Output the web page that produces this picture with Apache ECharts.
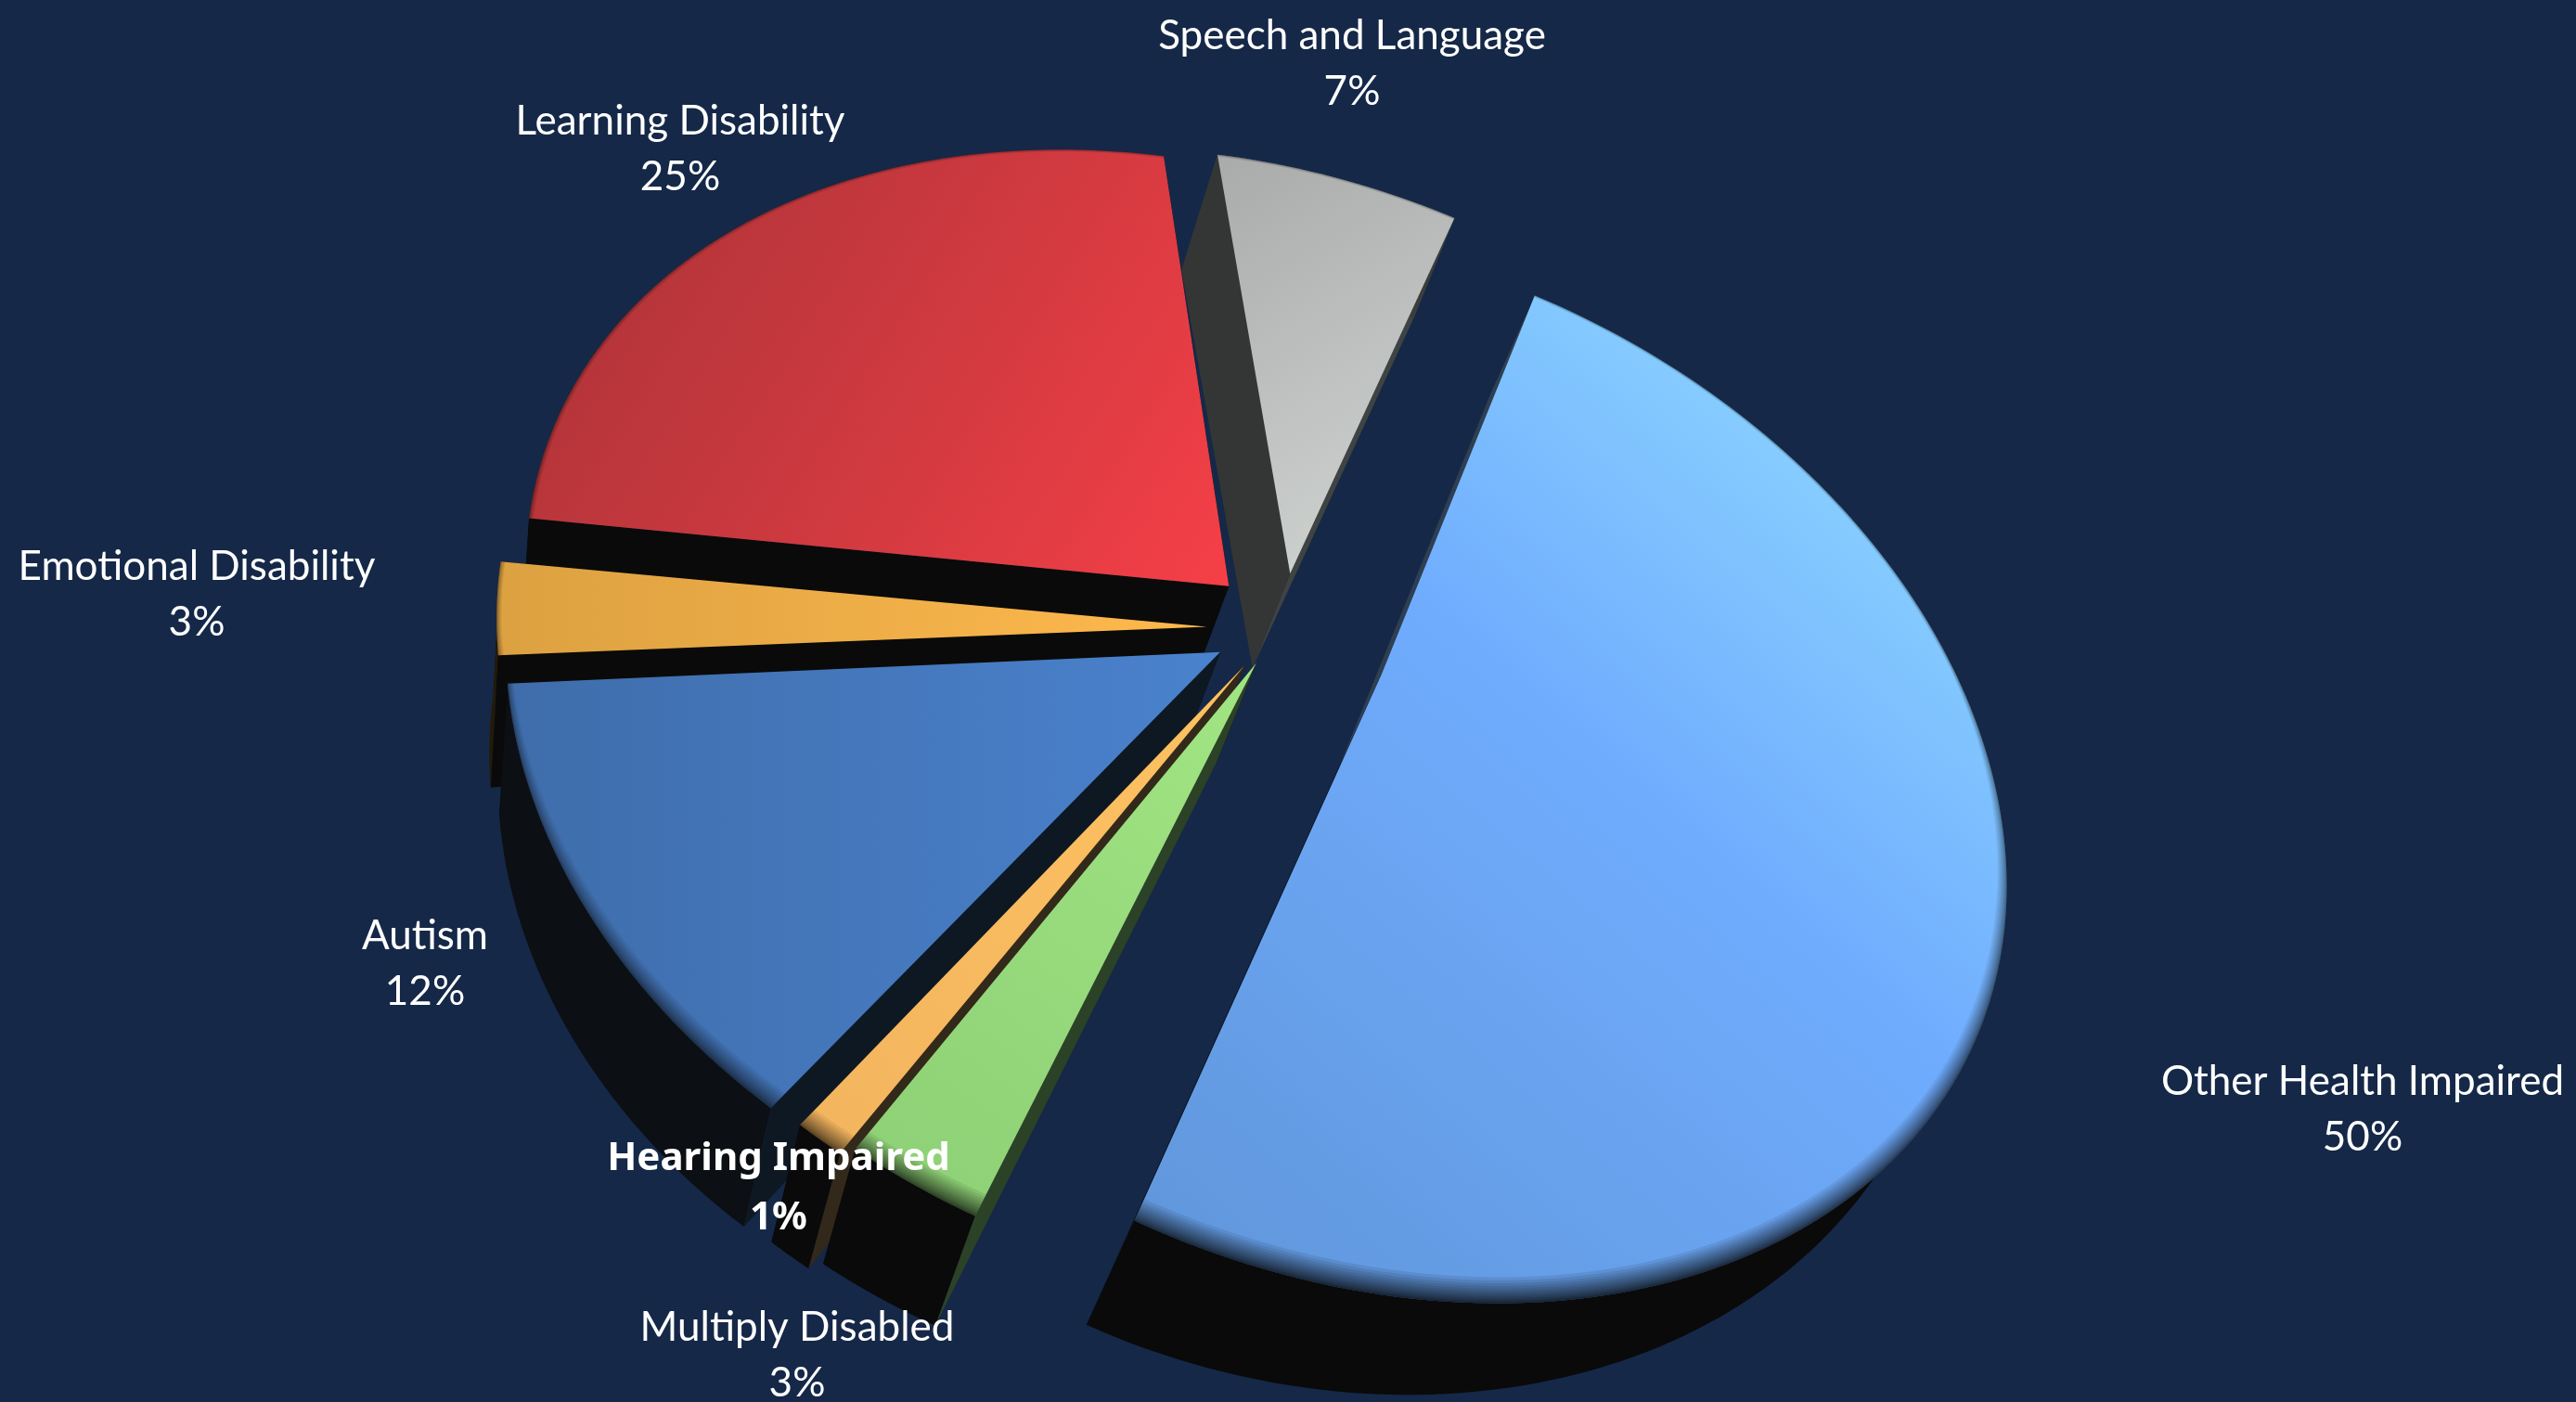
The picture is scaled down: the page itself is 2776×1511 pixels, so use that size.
<!DOCTYPE html>
<html><head><meta charset="utf-8">
<style>html,body{margin:0;height:100%;background:#152848}#chart{width:2776px;height:1511px}</style>
<script src="https://cdn.jsdelivr.net/npm/echarts@6/dist/echarts.min.js"></script></head>
<body><div id="chart"></div>
<script>
// Data, clockwise from the top of the largest slice
const categories = ['Other Health Impaired','Multiply Disabled','Hearing Impaired','Autism','Emotional Disability','Learning Disability','Speech and Language'];
const shares = [50.47, 2.63, 0.95, 11.66, 2.66, 24.51, 7.12];

// Scene: plane-to-screen homography of the tilted pie
const HOMOGRAPHY = {a:478.2,b:654.7,c:1355.0,d:-347.5,e:276.6,f:670.6,g:0.1895,h:-0.0068};
// Explosion offset of each slice within the pie plane
const explodeX = [0.001,-0.077,-0.090,-0.085,-0.049,0.046,0.121];
const explodeY = [0.201,0.024,0.010,-0.031,-0.065,-0.062,0.014];
const rimScale = [1,1,1,1,1,1.012,1];
// Extrusion toward the vanishing point
const VP = [400,3100];
const drawOrder = [6,5,4,3,2,1,0];

const faceStops = [
 [1,0,0,1,[[0,'#9be0ff'],[.14,'#8ad3ff'],[.46,'#70acfe'],[1,'#5f95d8']]],
 [1,0,0,1,[[0,'#a1e583'],[1,'#8dcf75']]],
 [1,0,0,1,[[0,'#ffc261'],[1,'#f2b45e']]],
 [1,0,0,0,[[0,'#4a82cd'],[1,'#3f6dab']]],
 [1,0,0,0,[[0,'#ffb94d'],[1,'#dca141']]],
 [1,1,0,0,[[0,'#f63f47'],[.5,'#cc393f'],[1,'#a83337']]],
 [1,1,0,0,[[0,'#d3d7d4'],[1,'#a9abaa']]]
];
const rimWall   = ['#0a0a0a','#0a0a0a','#0a0a0a','#0c0f13','#241a08','#0a0a0a','#3a3d3c'];
const startWall = ['#2f3f52','#2c4226','#33291a','#0e1822','#0a0a0a','#0a0a0a','#333634'];
const endWall   = ['#0a0a0a','#0a0a0a','#0a0a0a','#0a0a0a','#0a0a0a','#0a0a0a','#3f4342'];
const BANDS = 16, BAND_DEPTH = 0.035;

const labelLayout = [[2546,1196],[859,1461],[839,1281],[458,1039],[212,641],[733,161],[1457,69]];

const total = shares.reduce((s,v)=>s+v,0);
const spans = []; shares.reduce((t,v)=>{const d=v/total*2*Math.PI; spans.push([t,t+d]); return t+d;},0);
function plane(u,v){const H=HOMOGRAPHY,w=H.g*u+H.h*v+1;return [(H.a*u+H.b*v+H.c)/w,(H.d*u+H.e*v+H.f)/w];}
function down(P){const k=0.041-1.9e-5*(P[0]-1389)+2.7e-5*Math.max(0,P[1]-620);return [P[0]+k*(VP[0]-P[0]),P[1]+k*(VP[1]-P[1])];}
function arcAt(i,t,r){return plane(explodeX[i]+r*rimScale[i]*Math.cos(t),explodeY[i]+r*rimScale[i]*Math.sin(t));}
function angles(i,n){const [a,b]=spans[i],out=[];for(let j=0;j<=n;j++)out.push(a+(b-a)*j/n);return out;}

function renderSlice(params,api){
  const i=api.value(0), C=p=>api.coord(p), n=Math.max(12,Math.round(shares[i]*3));
  const ts=angles(i,n), rim=ts.map(t=>arcAt(i,t,1)), apex=plane(explodeX[i],explodeY[i]);
  const poly=(pts,fill)=>({type:'polygon',shape:{points:pts.map(C)},style:{fill:fill}});
  const kids=[];
  const first=rim[0], last=rim[rim.length-1];
  kids.push(poly([last,apex,down(apex),down(last)],endWall[i]));
  kids.push(poly(rim.concat(rim.map(down).reverse()),rimWall[i]));
  kids.push(poly([first,apex,down(apex),down(first)],startWall[i]));
  const g=faceStops[i];
  kids.push(poly([apex].concat(rim),new echarts.graphic.LinearGradient(g[0],g[1],g[2],g[3],g[4].map(s=>({offset:s[0],color:s[1]})))));
  const shade=new echarts.graphic.LinearGradient(0,150,0,1420,[
    {offset:0,color:'rgba(0,0,0,.03)'},{offset:.6,color:'rgba(0,0,0,.045)'},
    {offset:.85,color:'rgba(0,0,0,.07)'},{offset:1,color:'rgba(0,0,0,.1)'}],true);
  for(let b=1;b<=BANDS;b++){
    const d=BAND_DEPTH*Math.pow(b/BANDS,2);
    const inner=ts.map((t,j)=>{
      const P=rim[j], f=Math.max(0,(P[1]-apex[1])/Math.hypot(P[0]-apex[0],P[1]-apex[1]));
      return arcAt(i,t,1-d*(.18+.82*f));
    });
    kids.push(poly(rim.concat(inner.reverse()),shade));
  }
  return {type:'group',children:kids};
}
function renderLabel(params,api){
  const i=api.value(0), P=api.coord(labelLayout[i]), heavy=categories[i]==='Hearing Impaired';
  return {type:'text',x:P[0],y:P[1],style:{
    text:categories[i]+'\n'+Math.round(shares[i])+'%',fill:'#fff',align:'center',verticalAlign:'middle',
    font:(heavy?'bold 42px "Noto Sans"':'44px Lato'),lineHeight:heavy?64:60}};
}
const chart=echarts.init(document.getElementById('chart'),null,{renderer:'canvas'});
chart.setOption({
  animation:false,backgroundColor:'#152848',
  grid:{left:0,right:0,top:0,bottom:0},
  xAxis:{type:'value',min:0,max:2776,show:false},
  yAxis:{type:'value',min:0,max:1511,inverse:true,show:false},
  series:[
    {type:'custom',clip:false,silent:true,renderItem:renderSlice,data:drawOrder.map(i=>[i])},
    {type:'custom',clip:false,silent:true,z:5,renderItem:renderLabel,data:categories.map((c,i)=>[i])}
  ]
});
</script></body></html>
